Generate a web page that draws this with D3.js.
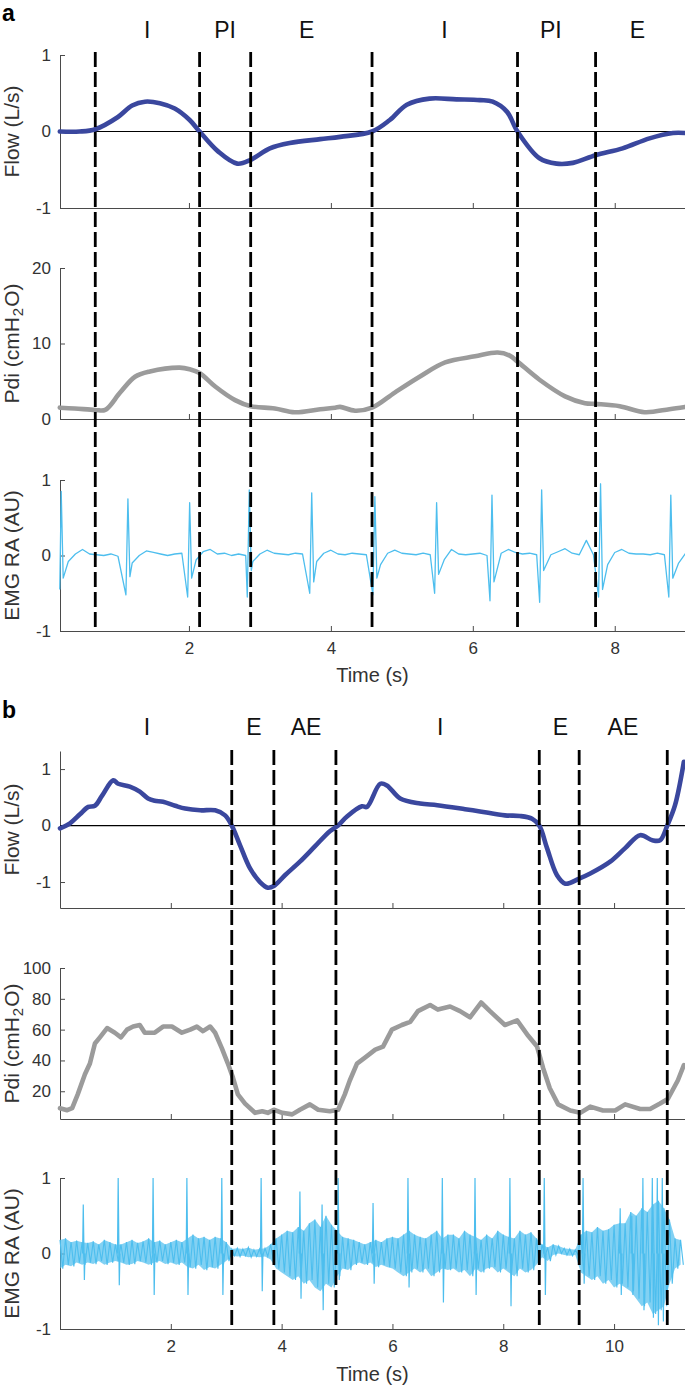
<!DOCTYPE html>
<html>
<head>
<meta charset="utf-8">
<script src="https://cdn.jsdelivr.net/npm/d3@7"></script>
<style>
  body { margin: 0; background: #fff; }
  svg { display: block; font-family: "Liberation Sans", Arial, Helvetica, sans-serif; }
</style>
</head>
<body>
<svg id="fig" width="685" height="1388"></svg>
<script>
// ---------- panel a data ----------
var flowATime = [0.18,0.46,0.68,1.0,1.2,1.38,1.59,1.8,2.01,2.15,2.41,2.68,2.87,3.14,3.42,3.85,4.13,4.58,4.83,5.07,5.39,5.77,6.1,6.28,6.48,6.63,6.94,7.18,7.41,7.73,8.11,8.49,8.82,8.99];
var flowA = [0,0,0.03,0.19,0.34,0.39,0.37,0.3,0.15,0,-0.26,-0.42,-0.37,-0.22,-0.15,-0.1,-0.07,0,0.15,0.35,0.43,0.42,0.41,0.39,0.26,0,-0.35,-0.42,-0.41,-0.31,-0.22,-0.09,-0.02,-0.02];

var pdiATime = [0.18,0.39,0.68,0.82,1.03,1.24,1.45,1.87,2.01,2.15,2.37,2.65,2.87,3.21,3.49,3.85,4.06,4.13,4.34,4.58,4.9,5.25,5.61,6.03,6.35,6.52,6.63,6.94,7.3,7.58,7.73,8.07,8.42,8.77,8.99];
var pdiA = [1.5,1.4,1.2,1.2,3.5,5.6,6.3,6.8,6.6,6.1,4.3,2.5,1.7,1.4,0.9,1.3,1.5,1.6,1.1,1.5,3.5,5.6,7.5,8.3,8.8,8.4,7.6,5.2,3.0,2.1,2.0,1.7,0.9,1.3,1.6];

// EMG baseline, one value every 0.1 s from 0.2 s
var emgABaseStart = 0.2, emgABaseStep = 0.1;
var emgABase = [0,-0.08,0.02,0.08,0.02,0.01,0,0.02,-0.01,0,
  -0.1,0,0.06,0.04,0.02,0,0.02,0.03,0,-0.06,
  0.05,0.08,0.02,0.03,0,0.02,0,-0.08,0.02,0.07,
  0.03,0.02,0.01,0.03,0.02,0,-0.08,0.03,0.07,0.02,
  0.01,0.03,0.02,0.01,0,-0.12,0.03,0.07,0.03,0.02,
  0.01,0.03,0.01,0,-0.05,0.08,0.02,0.01,0.02,0.03,
  0,-0.1,0.03,0.08,0.04,0.02,0.03,0.01,-0.08,0.01,
  0.05,0.09,0.03,0.01,0.2,0.01,0,-0.12,0.04,0.08,
  0.03,0.02,0.02,0.01,0.03,0.01,0,-0.1,0.03];
// ECG artefacts in the EMG trace
var emgASpikeTime = [0.2,1.14,2.01,2.85,3.73,4.62,5.49,6.27,6.97,7.8,8.79];
var emgASpikePeak = [0.85,0.75,0.7,0.87,0.83,0.78,0.7,0.8,0.87,0.95,0.8];
var emgASpikeDip = [-0.45,-0.52,-0.55,-0.55,-0.5,-0.52,-0.5,-0.6,-0.62,-0.55,-0.55];
var emgASpikeDip2 = [-0.3,-0.28,-0.3,-0.2,-0.35,-0.3,-0.25,-0.35,-0.2,-0.45,-0.3];

var phaseATimes = [0.68,2.15,2.87,4.58,6.63,7.73];
var phaseALabels = ["I","PI","E","I","PI","E"];
var phaseALabelTime = [1.41,2.51,3.66,5.6,7.1,8.32];

// ---------- panel b data ----------
var flowBTime = [0,0.18,0.36,0.51,0.63,0.76,0.96,1.05,1.26,1.44,1.59,1.71,1.86,2.08,2.26,2.53,2.80,2.98,3.10,3.25,3.43,3.61,3.75,3.86,4.06,4.33,4.60,4.87,5.02,5.18,5.45,5.54,5.78,5.90,6.14,6.50,6.81,7.31,7.58,8.03,8.30,8.52,8.65,8.79,8.97,9.12,9.37,9.57,9.93,10.20,10.47,10.69,10.83,10.96,11.10,11.26];
var flowB = [-0.05,0.04,0.2,0.33,0.35,0.53,0.8,0.74,0.69,0.6,0.48,0.44,0.42,0.35,0.3,0.27,0.27,0.18,0,-0.35,-0.76,-1.0,-1.1,-1.07,-0.88,-0.64,-0.37,-0.1,0,0.16,0.34,0.33,0.74,0.71,0.48,0.39,0.36,0.29,0.25,0.18,0.17,0.12,0,-0.4,-0.88,-1.03,-0.94,-0.85,-0.64,-0.4,-0.17,-0.26,-0.26,0,0.36,1.13];

var pdiBTime = [0,0.13,0.22,0.32,0.45,0.54,0.63,0.72,0.85,0.99,1.10,1.21,1.32,1.44,1.53,1.71,1.86,2.02,2.20,2.35,2.47,2.58,2.71,2.80,2.92,3.03,3.12,3.21,3.34,3.52,3.65,3.75,3.86,4.01,4.19,4.33,4.51,4.66,4.87,5.02,5.14,5.23,5.36,5.51,5.69,5.83,5.99,6.17,6.32,6.46,6.68,6.82,7.04,7.22,7.40,7.60,7.76,8.03,8.25,8.45,8.61,8.72,8.84,8.99,9.21,9.39,9.57,9.80,10.02,10.20,10.47,10.65,10.83,10.97,11.15,11.26];
var pdiB = [9,7.7,9,18,31,38,51,55,61,58,55,60,62,63,58,58,62,62,58,60,62,59,62,58,48,38,29,18,12,6,7,6,8,6,5,8,11.5,8,7,8,18,27,38,42,47,49,60,63,65,72,76,73,75,72,68,77.6,72,63,66,56,49,35,22,11.5,7.5,6,10,7.5,7.5,11.5,8.5,8.5,12,15,27,37];

// EMG noise band: upper / lower excursion every 0.1 s from 0 s
var emgBStep = 0.1;
var emgBUp = [0.18,0.2,0.15,0.17, 0.15,0.14,0.16,0.12,0.18,0.15,0.12,
  0.12,0.15,0.18,0.14,0.16,0.2,0.15,0.17,0.12,0.15,
  0.18,0.15,0.2,0.25,0.2,0.22,0.18,0.22,0.2,0.15,
  0.06,0.07,0.06,0.08,0.05,0.06,0.07,0.12,
  0.2,0.25,0.3,0.28,0.35,0.3,0.4,0.45,0.35,0.5,0.38,0.3,
  0.22,0.2,0.18,0.15,0.12,0.15,0.18,0.15,0.2,0.22,
  0.2,0.25,0.3,0.25,0.22,0.2,0.25,0.3,0.2,0.25,
  0.25,0.2,0.3,0.25,0.22,0.18,0.25,0.2,0.3,0.25,
  0.22,0.2,0.3,0.25,0.28,0.2,
  0.12,0.08,0.12,0.1,0.07,0.06,0.05,
  0.25,0.3,0.28,0.35,0.3,0.32,0.38,0.4,
  0.4,0.55,0.5,0.6,0.55,0.65,0.7,0.6,0.45,
  0.2,0.18];
var emgBLo = [-0.2,-0.15,-0.17,-0.12, -0.15,-0.12,-0.14,-0.1,-0.15,-0.12,-0.1,
  -0.12,-0.15,-0.14,-0.1,-0.12,-0.15,-0.12,-0.1,-0.14,-0.12,
  -0.15,-0.12,-0.18,-0.2,-0.15,-0.22,-0.18,-0.2,-0.15,-0.1,
  -0.03,-0.04,-0.03,-0.05,-0.04,-0.05,-0.04,-0.08,
  -0.2,-0.25,-0.3,-0.35,-0.3,-0.4,-0.35,-0.45,-0.5,-0.4,-0.45,-0.3,
  -0.2,-0.22,-0.15,-0.12,-0.15,-0.12,-0.18,-0.15,-0.18,-0.2,
  -0.25,-0.3,-0.25,-0.2,-0.25,-0.2,-0.3,-0.25,-0.2,-0.22,
  -0.2,-0.25,-0.22,-0.3,-0.2,-0.25,-0.2,-0.18,-0.25,-0.2,
  -0.25,-0.3,-0.2,-0.25,-0.22,-0.15,
  -0.05,-0.1,-0.02,0,-0.02,-0.03,-0.02,
  -0.25,-0.3,-0.35,-0.3,-0.4,-0.35,-0.45,-0.4,
  -0.45,-0.5,-0.6,-0.7,-0.65,-0.8,-0.75,-0.7,-0.4,
  -0.2,-0.15];
var emgBSpikeTime = [0.42,1.05,1.68,2.29,2.92,3.63,4.33,4.73,5.02,5.65,6.28,6.90,7.49,8.12,8.74,9.44,10.11,10.32,10.52,10.69,10.78,10.87];
var emgBSpikePeak = [0.65,1.0,1.0,1.0,1.0,1.0,0.82,0.65,1.0,0.67,1.0,1.0,1.0,1.0,1.0,1.0,0.6,0.5,1.0,1.0,1.0,1.0];
var emgBSpikeDip = [-0.35,-0.42,-0.55,-0.55,-0.55,-0.5,-0.6,-0.75,-0.35,-0.4,-0.45,-0.65,-0.55,-0.7,-0.55,-0.4,-0.55,-0.55,-0.75,-0.85,-0.95,-0.9];

var phaseBTimes = [3.10,3.86,4.98,8.65,9.37,10.96];
var phaseBLabels = ["I","E","AE","I","E","AE"];
var phaseBLabelTime = [1.57,3.5,4.44,6.86,9.03,10.16];

// ticks
var flowTicks = [-1,0,1];
var pdiATicks = [0,10,20];
var pdiBTicks = [20,40,60,80,100];
var emgTicks = [-1,0,1];
var timeATicks = [2,4,6,8];
var timeBTicks = [2,4,6,8,10];

var flowColor = "#3a479e", pdiColor = "#9b9b9b", emgColor = "#4dbeee";
var axisColor = "#4a4a4a", textColor = "#333";

var svg = d3.select("#fig");

// ---------- build the EMG traces ----------
function emgTraceA() {
  var pts = [];
  emgABase.forEach(function(v, i) {
    var t = emgABaseStart + i * emgABaseStep;
    var near = emgASpikeTime.some(function(s) { return Math.abs(t - s) < 0.04; });
    if (!near) pts.push([t, v]);
  });
  emgASpikeTime.forEach(function(s, i) {
    pts.push([Math.max(s - 0.028, 0.18), emgASpikeDip[i]]);
    pts.push([s, emgASpikePeak[i]]);
    pts.push([s + 0.028, emgASpikeDip2[i]]);
  });
  return pts.sort(function(a, b) { return a[0] - b[0]; });
}

function emgBandB() {
  return emgBUp.map(function(u, i) { return [i * emgBStep, emgBLo[i], u]; });
}

// the raw trace swings between the band edges
function emgZigzagB() {
  var pts = [];
  emgBUp.forEach(function(u, i) {
    var t = i * emgBStep;
    pts.push([t, u]);
    pts.push([t + emgBStep / 2, emgBLo[i]]);
  });
  return pts;
}

function emgSpikesB() {
  return emgBSpikeTime.map(function(s, i) {
    return [[s - 0.012, 0], [s, emgBSpikePeak[i]], [s + 0.02, emgBSpikeDip[i]], [s + 0.032, 0]];
  });
}

var fmt = function(d) { return String(d); };

function drawPanel(p) {
  var x = d3.scaleLinear().domain(p.xDomain).range([60, 685]);
  var g = svg.append("g");

  g.append("text").attr("x", 2).attr("y", p.letterY)
    .attr("font-size", 23).attr("font-weight", "bold").attr("fill", "#000")
    .text(p.letter);

  g.selectAll(".phase").data(p.labels).enter().append("text")
    .attr("x", function(d, i) { return x(p.labelTime[i]); })
    .attr("y", p.labelY)
    .attr("text-anchor", "middle").attr("font-size", 23).attr("fill", "#111")
    .text(function(d) { return d; });

  p.rows.forEach(function(r, ri) {
    var y = d3.scaleLinear().domain(r.domain).range([r.bottom, r.top]);
    var last = ri === p.rows.length - 1;

    var ax = g.append("g").attr("transform", "translate(60,0)")
      .call(d3.axisLeft(y).tickValues(r.ticks).tickSizeInner(-5).tickSizeOuter(0).tickPadding(9).tickFormat(fmt));
    var bx = g.append("g").attr("transform", "translate(0," + r.bottom + ")")
      .call(d3.axisBottom(x).tickValues(p.xTicks).tickSizeInner(-5).tickSizeOuter(0).tickPadding(11)
        .tickFormat(last ? fmt : function() { return ""; }));
    [ax, bx].forEach(function(a) {
      a.attr("font-size", null).attr("font-family", null);
      a.selectAll("path, line").attr("stroke", axisColor);
      a.selectAll("text").attr("font-size", 17).attr("fill", textColor);
    });

    var lab = g.append("text")
      .attr("transform", "translate(19," + ((r.top + r.bottom) / 2) + ") rotate(-90)")
      .attr("text-anchor", "middle").attr("font-size", 21).attr("fill", textColor);
    if (r.kind === "pdi") {
      lab.append("tspan").text("Pdi (cmH");
      lab.append("tspan").attr("font-size", 15).attr("dy", 4).attr("dx", 1).text("2");
      lab.append("tspan").attr("dy", -4).attr("dx", 1).text("O)");
    } else {
      lab.text(r.label);
    }

    if (r.kind === "flow") {
      g.append("line").attr("x1", 60).attr("x2", 685)
        .attr("y1", y(0)).attr("y2", y(0))
        .attr("stroke", "#000").attr("stroke-width", 1.2);
    }

    var line = d3.line()
      .x(function(d) { return x(d[0]); })
      .y(function(d) { return y(d[1]); });

    if (r.kind === "emg") {
      if (r.band) {
        var area = d3.area()
          .x(function(d) { return x(d[0]); })
          .y0(function(d) { return y(d[1]); })
          .y1(function(d) { return y(d[2]); });
        g.append("path").datum(r.band)
          .attr("fill", emgColor).attr("fill-opacity", 0.7).attr("stroke", "none")
          .attr("d", area);
        g.append("path").datum(r.zigzag)
          .attr("fill", "none").attr("stroke", emgColor).attr("stroke-width", 1.1)
          .attr("d", line);
        g.selectAll(".spk" + ri).data(r.spikes).enter().append("path")
          .attr("fill", "none").attr("stroke", emgColor).attr("stroke-width", 1.2)
          .attr("d", line);
      } else {
        g.append("path").datum(r.data)
          .attr("fill", "none").attr("stroke", emgColor).attr("stroke-width", 1.3)
          .attr("stroke-linejoin", "round")
          .attr("d", line);
      }
    } else {
      line.curve(r.curve);
      g.append("path").datum(r.data)
        .attr("fill", "none").attr("stroke", r.kind === "flow" ? flowColor : pdiColor)
        .attr("stroke-width", 4.6).attr("stroke-linejoin", "round").attr("stroke-linecap", "round")
        .attr("d", line);
    }

    if (last) {
      g.append("text").attr("x", (60 + 685) / 2).attr("y", p.timeLabelY)
        .attr("text-anchor", "middle").attr("font-size", 20).attr("fill", textColor)
        .text("Time (s)");
    }
  });

  g.selectAll(".dash").data(p.phases).enter().append("line")
    .attr("x1", function(d) { return x(d); }).attr("x2", function(d) { return x(d); })
    .attr("y1", p.dashTop).attr("y2", p.dashBottom)
    .attr("stroke", "#000").attr("stroke-width", 2.8).attr("stroke-dasharray", "15,5");
}

drawPanel({
  letter: "a", letterY: 21, labelY: 38, timeLabelY: 682,
  xDomain: [0.183, 8.99], xTicks: timeATicks,
  labels: phaseALabels, labelTime: phaseALabelTime,
  phases: phaseATimes, dashTop: 52, dashBottom: 632,
  rows: [
    { kind: "flow", label: "Flow (L/s)", top: 55, bottom: 208, domain: [-1, 1], ticks: flowTicks,
      data: d3.zip(flowATime, flowA), curve: d3.curveCatmullRom },
    { kind: "pdi", top: 268, bottom: 419, domain: [0, 20], ticks: pdiATicks,
      data: d3.zip(pdiATime, pdiA), curve: d3.curveCatmullRom },
    { kind: "emg", label: "EMG RA (AU)", top: 480, bottom: 631, domain: [-1, 1], ticks: emgTicks,
      data: emgTraceA() }
  ]
});

drawPanel({
  letter: "b", letterY: 718, labelY: 735, timeLabelY: 1381,
  xDomain: [0, 11.28], xTicks: timeBTicks,
  labels: phaseBLabels, labelTime: phaseBLabelTime,
  phases: phaseBTimes, dashTop: 750, dashBottom: 1330,
  rows: [
    { kind: "flow", label: "Flow (L/s)", top: 751, bottom: 908, domain: [-1.46, 1.32], ticks: flowTicks,
      data: d3.zip(flowBTime, flowB), curve: d3.curveCatmullRom },
    { kind: "pdi", top: 968, bottom: 1119, domain: [2, 100], ticks: pdiBTicks,
      data: d3.zip(pdiBTime, pdiB), curve: d3.curveLinear },
    { kind: "emg", label: "EMG RA (AU)", top: 1178, bottom: 1329, domain: [-1, 1], ticks: emgTicks,
      band: emgBandB(), zigzag: emgZigzagB(), spikes: emgSpikesB() }
  ]
});
</script>
</body>
</html>
